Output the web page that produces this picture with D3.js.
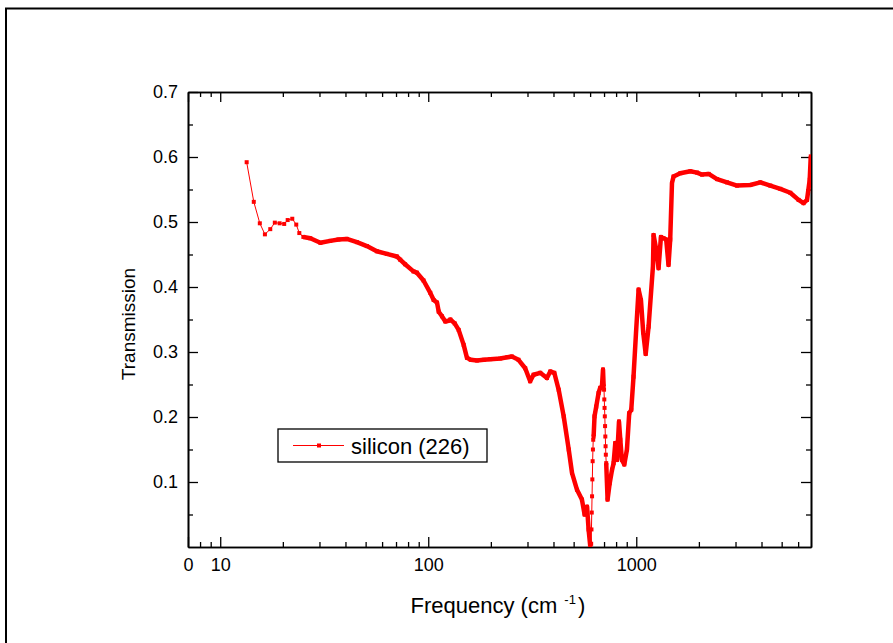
<!DOCTYPE html>
<html>
<head>
<meta charset="utf-8">
<script src="https://cdn.jsdelivr.net/npm/d3@7"></script>
<style>
  body { margin: 0; background: #fff; }
  text { font-family: "Liberation Sans", Arial, sans-serif; fill: #000; }
  .axis path, .axis line { stroke: #000; }
</style>
</head>
<body>
<div class="graph"></div>
<script>
// far-IR part: sparse enough that every sample shows as a marker
var farIrFreq  = [13.4, 14.5, 15.5, 16.4, 17.4, 18.3, 19.3, 20.3, 21.1, 22.2, 23.2, 24.0];
var farIrTrans = [0.592, 0.531, 0.498, 0.481, 0.489, 0.499, 0.498, 0.497, 0.503, 0.505, 0.496, 0.483];

// dense trace up to the reststrahlen dip
var trace1Freq  = [25.1, 27.1, 30.3, 33.8, 37, 40.6, 45.4, 50.7, 56.6, 63.2, 70.6, 73.3, 77.4, 84.9, 88.2, 94.9,
                   102.3, 106.2, 110.2, 112.3, 116.4, 120.8, 125.3, 127.7, 134, 140, 148, 153.5, 160, 171.5, 185,
                   198.7, 221.8, 240, 252.5, 271.6, 292.5, 309, 320.8, 345.4, 372, 386, 403.6, 423.6, 447.9,
                   473.5, 491, 519, 548, 564.5, 580, 590, 601];
var trace1Trans = [0.477, 0.475, 0.468, 0.471, 0.473, 0.474, 0.469, 0.463, 0.455, 0.451, 0.447, 0.442, 0.435, 0.424, 0.422, 0.410,
                   0.391, 0.380, 0.376, 0.362, 0.355, 0.347, 0.348, 0.350, 0.344, 0.334, 0.311, 0.291, 0.288, 0.287, 0.288,
                   0.289, 0.290, 0.292, 0.293, 0.288, 0.275, 0.255, 0.265, 0.268, 0.260, 0.270, 0.268, 0.242, 0.201,
                   0.150, 0.114, 0.088, 0.073, 0.050, 0.062, 0.027, 0.001];

// steep rise, points visible one by one
var riseFreq  = [607, 609, 611, 613, 615, 617, 619, 621];
var riseTrans = [0.005, 0.027, 0.053, 0.078, 0.104, 0.132, 0.150, 0.165];

var trace2Freq  = [623.7, 630, 642, 659, 671, 684, 692, 697];
var trace2Trans = [0.170, 0.201, 0.216, 0.237, 0.245, 0.247, 0.273, 0.247];

// steep drop, points visible one by one
var dropFreq  = [700, 702, 704, 706, 708, 710, 712, 714];
var dropTrans = [0.242, 0.227, 0.214, 0.201, 0.186, 0.170, 0.155, 0.142];

var trace3Freq  = [717, 728, 745, 765, 778, 793, 808, 826, 838, 853, 876, 902, 925, 946, 970, 997, 1026, 1053, 1080,
                   1110, 1146, 1203, 1211, 1248, 1280, 1314, 1353, 1393, 1429, 1456, 1485, 1511, 1628, 1819, 1959,
                   2070, 2229, 2445, 2730, 3050, 3534, 3948, 4410, 4925, 5500, 6030, 6370, 6620, 6820, 6900];
var trace3Trans = [0.129, 0.073, 0.098, 0.119, 0.129, 0.160, 0.134, 0.193, 0.165, 0.134, 0.127, 0.150, 0.206, 0.211, 0.262,
                   0.329, 0.396, 0.380, 0.330, 0.297, 0.339, 0.432, 0.480, 0.457, 0.429, 0.477, 0.475, 0.473, 0.434,
                   0.473, 0.560, 0.570, 0.575, 0.578, 0.576, 0.573, 0.574, 0.566, 0.561, 0.556, 0.557, 0.561, 0.556,
                   0.551, 0.545, 0.534, 0.529, 0.534, 0.565, 0.601];

var xMajor = [7, 10, 100, 1000];
var xMajorLabels = ["0", "10", "100", "1000"];
var xMinor = [8, 9, 20, 30, 40, 50, 60, 70, 80, 90, 200, 300, 400, 500, 600, 700, 800, 900, 2000, 3000, 4000, 5000, 6000];
var yMajor = [0.1, 0.2, 0.3, 0.4, 0.5, 0.6, 0.7];
var yMinor = [0.05, 0.15, 0.25, 0.35, 0.45, 0.55, 0.65];

var seriesName = "silicon (226)";

var W = 893, H = 643;
var margin = {top: 92, right: 82, bottom: 96, left: 188},
    width = W - margin.left - margin.right,
    height = H - margin.top - margin.bottom;

var pts = function(fx, ty) { return fx.map(function(f, i) { return [f, ty[i]]; }); };

var trace1 = pts(trace1Freq, trace1Trans),
    trace2 = pts(trace2Freq, trace2Trans),
    trace3 = pts(trace3Freq, trace3Trans);
var all = [].concat(pts(farIrFreq, farIrTrans), trace1, pts(riseFreq, riseTrans),
                    trace2, pts(dropFreq, dropTrans), trace3);

var x = d3.scaleLog().domain([7, 6918]).range([0, width]);
var y = d3.scaleLinear().domain([0, 0.7]).range([height, 0]);

var root = d3.select(".graph").append("svg")
    .attr("width", W)
    .attr("height", H);

root.append("rect").attr("width", W).attr("height", H).attr("fill", "#fff");

// outer frame (only top and left sides are inside the picture)
root.append("path")
    .attr("d", "M6,643V8.5H893")
    .attr("fill", "none")
    .attr("stroke", "#000")
    .attr("stroke-width", 2);

var svg = root.append("g")
    .attr("transform", "translate(" + margin.left + "," + margin.top + ")");

svg.append("clipPath").attr("id", "plot")
  .append("rect").attr("x", 0).attr("y", -2).attr("width", width).attr("height", height + 2);

// axes: ticks point inward on all four sides
function styleAxis(g) {
  g.attr("class", "axis");
  g.select(".domain").attr("stroke-width", 1.6);
  g.selectAll(".tick line").attr("stroke-width", 1.3);
  g.selectAll("text").style("font-size", "18px").style("font-family", "Liberation Sans, Arial, sans-serif");
}

svg.append("g").attr("transform", "translate(0," + height + ")")
    .call(d3.axisBottom(x).tickValues(xMinor).tickSize(-5).tickSizeOuter(0).tickFormat(""))
    .call(styleAxis);
svg.append("g").attr("transform", "translate(0," + height + ")")
    .call(d3.axisBottom(x).tickValues(xMajor).tickSize(-10).tickSizeOuter(0).tickPadding(11)
      .tickFormat(function(d, i) { return xMajorLabels[i]; }))
    .call(styleAxis);

svg.append("g")
    .call(d3.axisTop(x).tickValues(xMinor).tickSize(-5).tickSizeOuter(0).tickFormat(""))
    .call(styleAxis);
svg.append("g")
    .call(d3.axisTop(x).tickValues(xMajor).tickSize(-10).tickSizeOuter(0).tickFormat(""))
    .call(styleAxis);

svg.append("g")
    .call(d3.axisLeft(y).tickValues(yMinor).tickSize(-5).tickSizeOuter(0).tickFormat(""))
    .call(styleAxis);
svg.append("g")
    .call(d3.axisLeft(y).tickValues(yMajor).tickSize(-10).tickSizeOuter(0).tickPadding(10).tickFormat(d3.format(".1f")))
    .call(styleAxis);

svg.append("g").attr("transform", "translate(" + width + ",0)")
    .call(d3.axisRight(y).tickValues(yMinor).tickSize(-5).tickSizeOuter(0).tickFormat(""))
    .call(styleAxis);
svg.append("g").attr("transform", "translate(" + width + ",0)")
    .call(d3.axisRight(y).tickValues(yMajor).tickSize(-10).tickSizeOuter(0).tickFormat(""))
    .call(styleAxis);

// axis titles
svg.append("text")
    .attr("transform", "translate(" + (135 - margin.left) + "," + (324 - margin.top) + ") rotate(-90)")
    .attr("text-anchor", "middle")
    .style("font-size", "19px")
    .text("Transmission");

var xt = svg.append("text")
    .attr("x", 410.5 - margin.left)
    .attr("y", 613 - margin.top)
    .style("font-size", "22px");
xt.append("tspan").text("Frequency (cm ");
xt.append("tspan").attr("dy", -9).attr("dx", 1).style("font-size", "13px").text("-1");
xt.append("tspan").attr("dy", 9).attr("dx", 2).text(")");

// the spectrum
var line = d3.line().x(function(d) { return x(d[0]); }).y(function(d) { return y(d[1]); });
var curve = svg.append("g").attr("clip-path", "url(#plot)");

curve.append("path")
    .attr("d", line(all))
    .attr("fill", "none")
    .attr("stroke", "#ff0000")
    .attr("stroke-width", 1);

// densely sampled stretches: markers merge into a thick band
[trace1, trace2, trace3].forEach(function(seg) {
  curve.append("path")
      .attr("d", line(seg))
      .attr("fill", "none")
      .attr("stroke", "#ff0000")
      .attr("stroke-width", 4.5)
      .attr("stroke-linejoin", "round");
});

curve.selectAll(".dot")
    .data(all)
  .enter().append("rect")
    .attr("class", "dot")
    .attr("x", function(d) { return x(d[0]) - 2; })
    .attr("y", function(d) { return y(d[1]) - 2; })
    .attr("width", 4)
    .attr("height", 4)
    .attr("fill", "#ff0000");

// legend
var lg = root.append("g").attr("transform", "translate(278,429)");
lg.append("rect")
    .attr("width", 209)
    .attr("height", 33)
    .attr("fill", "#fff")
    .attr("stroke", "#000")
    .attr("stroke-width", 1.3);
lg.append("line")
    .attr("x1", 15).attr("x2", 66).attr("y1", 16.5).attr("y2", 16.5)
    .attr("stroke", "#ff0000").attr("stroke-width", 1);
lg.append("rect")
    .attr("x", 39).attr("y", 14.5).attr("width", 4).attr("height", 4)
    .attr("fill", "#ff0000");
lg.append("text")
    .attr("x", 73)
    .attr("y", 24.5)
    .style("font-size", "22px")
    .text(seriesName);
</script>
</body>
</html>
